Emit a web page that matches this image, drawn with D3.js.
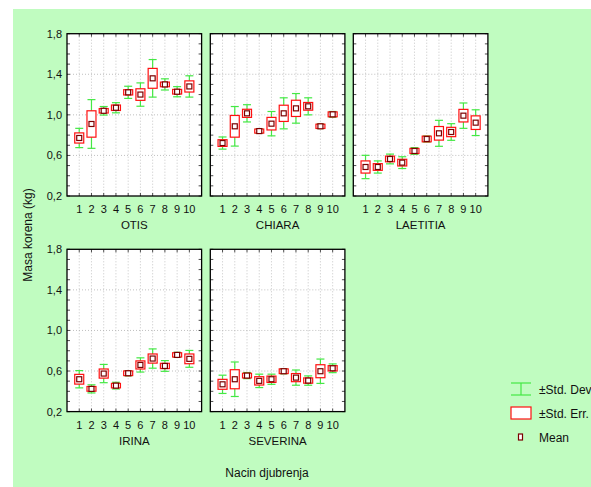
<!DOCTYPE html>
<html><head><meta charset="utf-8">
<script src="https://cdn.jsdelivr.net/npm/d3@7"></script>
<style>body{margin:0;background:#fff}svg{display:block}text{font-family:"Liberation Sans",Arial,sans-serif;fill:#111}</style>
</head><body><svg id="c" width="591" height="487"></svg>
<script>
const panels = ["OTIS","CHIARA","LAETITIA","IRINA","SEVERINA"];
const categories = [1,2,3,4,5,6,7,8,9,10];
const yTicks = [0.2,0.6,1.0,1.4,1.8];
const yTickLabels = ["0,2","0,6","1,0","1,4","1,8"];
const means = [
  [0.772,0.91,1.04,1.07,1.222,1.20,1.36,1.30,1.228,1.28],
  [0.722,0.887,1.015,0.84,0.913,1.015,1.064,1.084,0.887,1.005],
  [0.486,0.486,0.565,0.529,0.644,0.762,0.818,0.831,0.992,0.923],
  [0.519,0.424,0.575,0.456,0.578,0.66,0.723,0.65,0.759,0.72],
  [0.469,0.519,0.555,0.503,0.519,0.598,0.535,0.506,0.598,0.627]
];
const stdErr = [
  [0.05,0.13,0.022,0.027,0.026,0.057,0.098,0.023,0.023,0.055],
  [0.033,0.107,0.04,0.02,0.062,0.08,0.08,0.038,0.021,0.024],
  [0.06,0.033,0.028,0.033,0.025,0.028,0.067,0.046,0.062,0.067],
  [0.048,0.023,0.045,0.022,0.023,0.04,0.045,0.026,0.021,0.048],
  [0.049,0.094,0.023,0.041,0.031,0.023,0.04,0.026,0.064,0.026]
];
const stdDev = [
  [0.095,0.24,0.042,0.05,0.06,0.115,0.185,0.055,0.05,0.105],
  [0.06,0.195,0.085,0.02,0.12,0.153,0.146,0.084,0.022,0.028],
  [0.115,0.06,0.048,0.058,0.033,0.03,0.128,0.082,0.125,0.127],
  [0.085,0.04,0.09,0.033,0.025,0.07,0.095,0.053,0.025,0.083],
  [0.09,0.17,0.03,0.066,0.05,0.025,0.075,0.046,0.12,0.043]
];
const legendLabels = ["±Std. Dev","±Std. Err.","Mean"];
const axisTitleY = "Masa korena (kg)";
const axisTitleX = "Nacin djubrenja";

const svg = d3.select("#c");
svg.append("rect").attr("x",13).attr("y",9).attr("width",578).attr("height",478).attr("fill","#c0fcc0");

const colX = [67,210.3,353.3], rowY = [33.7,249.3];
const pw = 134.6, ph = 162.3;
const GREEN = "#44e844", RED = "#ff1010", DARK = "#7a0000";

panels.forEach((name,pi)=>{
  const col = pi%3, row = Math.floor(pi/3);
  const g = svg.append("g").attr("transform",`translate(${colX[col]},${rowY[row]})`);
  const x = d3.scaleLinear().domain([0,11]).range([0,pw]);
  const y = d3.scaleLinear().domain([0.2,1.8]).range([ph,0]);
  g.append("rect").attr("width",pw).attr("height",ph).attr("fill","#fff");
  // grid
  g.selectAll(".vg").data(categories).enter().append("line")
    .attr("x1",d=>x(d)).attr("x2",d=>x(d)).attr("y1",0).attr("y2",ph)
    .attr("stroke","#b8b8b8").attr("stroke-width",0.8).attr("stroke-dasharray","1,2");
  g.selectAll(".hg").data([0.6,1.0,1.4]).enter().append("line")
    .attr("x1",0).attr("x2",pw).attr("y1",d=>y(d)).attr("y2",d=>y(d))
    .attr("stroke","#b0b0b0").attr("stroke-width",0.8).attr("stroke-dasharray","1,2");
  // minor ticks
  const minor = d3.range(0.2,1.801,0.1);
  [0,pw].forEach((ex,i)=>{
    g.selectAll(null).data(minor).enter().append("line")
      .attr("x1",ex).attr("x2",ex+(i?-3:3)).attr("y1",d=>y(d)).attr("y2",d=>y(d))
      .attr("stroke","#222").attr("stroke-width",0.8);
  });
  [0,ph].forEach((ey,i)=>{
    g.selectAll(null).data(categories).enter().append("line")
      .attr("y1",ey).attr("y2",ey+(i?-3:3)).attr("x1",d=>x(d)).attr("x2",d=>x(d))
      .attr("stroke","#222").attr("stroke-width",0.8);
  });
  const data = categories.map((c,i)=>({c,m:means[pi][i],se:stdErr[pi][i],sd:stdDev[pi][i]}));
  const items = g.selectAll(".it").data(data).enter().append("g");
  // whiskers
  items.append("line").attr("x1",d=>x(d.c)).attr("x2",d=>x(d.c))
    .attr("y1",d=>y(d.m+d.sd)).attr("y2",d=>y(d.m-d.sd)).attr("stroke",GREEN).attr("stroke-width",1.2);
  items.each(function(d){
    const s=d3.select(this);
    [d.m+d.sd,d.m-d.sd].forEach(v=>s.append("line").attr("x1",x(d.c)-4).attr("x2",x(d.c)+4)
      .attr("y1",y(v)).attr("y2",y(v)).attr("stroke",GREEN).attr("stroke-width",1.2));
  });
  // boxes
  items.append("rect").attr("x",d=>x(d.c)-4.5).attr("width",9)
    .attr("y",d=>y(d.m+d.se)).attr("height",d=>Math.max(y(d.m-d.se)-y(d.m+d.se),0))
    .attr("fill","#fff").attr("stroke",RED).attr("stroke-width",1.2);
  // means
  items.append("rect").attr("x",d=>x(d.c)-2.5).attr("y",d=>y(d.m)-2.5).attr("width",5).attr("height",5)
    .attr("fill","#fff").attr("stroke",DARK).attr("stroke-width",1.2);
  // border
  g.append("rect").attr("width",pw).attr("height",ph).attr("fill","none").attr("stroke","#000").attr("stroke-width",1.3);
  // x tick labels
  g.selectAll(".xl").data(categories).enter().append("text")
    .attr("x",d=>x(d)).attr("y",ph+17).attr("text-anchor","middle").attr("font-size",11).text(d=>d);
  g.append("text").attr("x",pw/2).attr("y",ph+33).attr("text-anchor","middle").attr("font-size",11.5).text(name);
  if(col===0){
    g.selectAll(".yl").data(yTicks).enter().append("text")
      .attr("x",-5).attr("y",d=>y(d)+4).attr("text-anchor","end").attr("font-size",11)
      .text((d,i)=>yTickLabels[i]);
  }
});

svg.append("text").attr("transform","translate(32,235) rotate(-90)").attr("text-anchor","middle")
  .attr("font-size",12).text(axisTitleY);
svg.append("text").attr("x",267).attr("y",477).attr("text-anchor","middle").attr("font-size",12).text(axisTitleX);

// legend
const lg = svg.append("g");
const ly = [389,413,437];
lg.append("line").attr("x1",521).attr("x2",521).attr("y1",ly[0]-6).attr("y2",ly[0]+6).attr("stroke",GREEN).attr("stroke-width",1.2);
[ly[0]-6,ly[0]+6].forEach(v=>lg.append("line").attr("x1",511).attr("x2",531).attr("y1",v).attr("y2",v).attr("stroke",GREEN).attr("stroke-width",1.2));
lg.append("rect").attr("x",511).attr("y",ly[1]-6).attr("width",20).attr("height",12).attr("fill","#fff").attr("stroke",RED).attr("stroke-width",1.2);
lg.append("rect").attr("x",518.5).attr("y",ly[2]-3).attr("width",4).attr("height",6).attr("fill","#fff").attr("stroke",DARK).attr("stroke-width",1.2);
lg.selectAll(".lt").data(legendLabels).enter().append("text")
  .attr("x",539).attr("y",(d,i)=>ly[i]+4.5).attr("font-size",12).text(d=>d);
</script></body></html>
